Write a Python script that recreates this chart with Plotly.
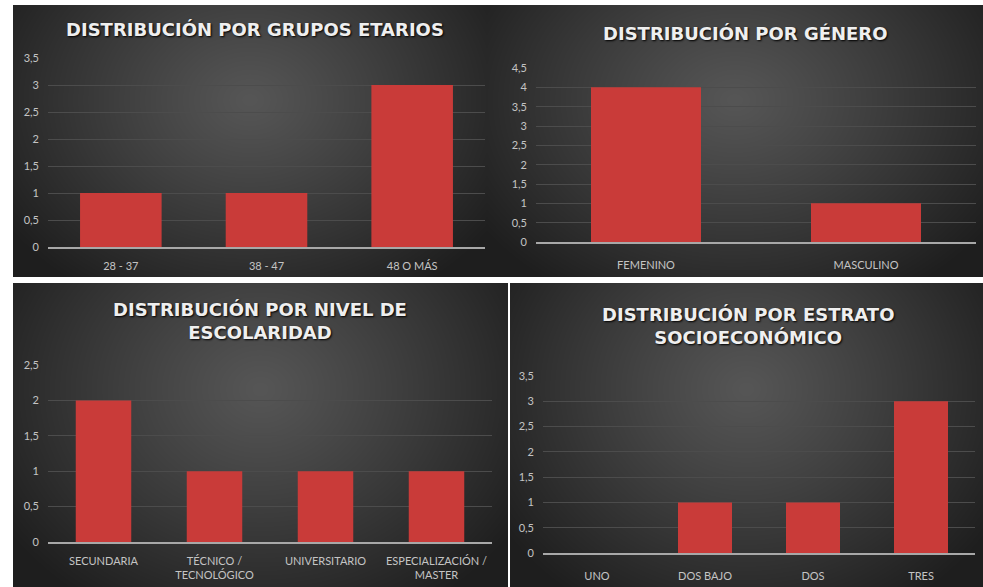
import zlib, struct, base64
import numpy as np
import plotly.graph_objects as go

# ---- data ----
edad_cats = ["28 - 37", "38 - 47", "48 O MÁS"]
edad_vals = [1, 1, 3]

genero_cats = ["FEMENINO", "MASCULINO"]
genero_vals = [4, 1]

escolaridad_cats = ["SECUNDARIA", "TÉCNICO /<br>TECNOLÓGICO", "UNIVERSITARIO", "ESPECIALIZACIÓN /<br>MASTER"]
escolaridad_vals = [2, 1, 1, 1]

estrato_cats = ["UNO", "DOS BAJO", "DOS", "TRES"]
estrato_vals = [0, 1, 1, 3]

titles = [
    "DISTRIBUCIÓN POR GRUPOS ETARIOS",
    "DISTRIBUCIÓN POR GÉNERO",
    "DISTRIBUCIÓN POR NIVEL DE<br>ESCOLARIDAD",
    "DISTRIBUCIÓN POR ESTRATO<br>SOCIOECONÓMICO",
]

W, H = 983, 587


def png_uri(arr):
    h, w = arr.shape
    raw = b"".join(b"\x00" + arr[i].tobytes() for i in range(h))

    def chunk(t, d):
        c = struct.pack(">I", len(d)) + t + d
        return c + struct.pack(">I", zlib.crc32(t + d) & 0xFFFFFFFF)

    png = (b"\x89PNG\r\n\x1a\n"
           + chunk(b"IHDR", struct.pack(">IIBBBBB", w, h, 8, 0, 0, 0, 0))
           + chunk(b"IDAT", zlib.compress(raw, 9))
           + chunk(b"IEND", b""))
    return "data:image/png;base64," + base64.b64encode(png).decode()


def gradient(w, h, cy=0.35, c_in=86, c_out=30):
    xs = (np.arange(w) + 0.5) / w - 0.5
    ys = (np.arange(h) + 0.5) / h - cy
    X, Y = np.meshgrid(xs, ys)
    r = np.sqrt((X / 0.62) ** 2 + (Y / 0.85) ** 2)
    r = np.clip(r, 0, 1)
    v = c_in + (c_out - c_in) * r ** 1.1
    return v.astype(np.uint8)


# panel rects in pixels: x0, y0, x1, y1
panels = [(13, 5, 487, 277), (487, 5, 983, 277), (13, 283, 508, 587), (510, 283, 983, 587)]
# plot areas in pixels: x0, x1, ytop, yzero
plots = [(48, 485, 58, 247), (536, 976, 68, 242), (48, 492, 365, 542), (543, 975, 376, 553)]
ymaxes = [3.5, 4.5, 2.5, 3.5]
title_pos = [(255, 29), (745, 33), (260, 321), (748, 326)]
bar_widths = [0.56, 0.5, 0.5, 0.5]
standoffs = [8, 12, 8, 12]

data = [(edad_cats, edad_vals), (genero_cats, genero_vals),
        (escolaridad_cats, escolaridad_vals), (estrato_cats, estrato_vals)]

fig = go.Figure()
images = []
annotations = []
layout_axes = {}

tick_font = dict(family="Lato, Open Sans, sans-serif", size=11, color="#c4c4c4")

for i, ((cats, vals), (px0, px1, pyt, pyz)) in enumerate(zip(data, plots)):
    n = i + 1
    xa = "x" if n == 1 else f"x{n}"
    ya = "y" if n == 1 else f"y{n}"
    fig.add_trace(go.Bar(
        x=cats, y=vals, xaxis=xa, yaxis=ya,
        width=bar_widths[i],
        marker=dict(color="#c93b39", line=dict(width=0)),
        showlegend=False, hoverinfo="x+y",
    ))
    xkey = "xaxis" if n == 1 else f"xaxis{n}"
    ykey = "yaxis" if n == 1 else f"yaxis{n}"
    layout_axes[xkey] = dict(
        domain=[px0 / W, px1 / W], anchor=ya, automargin=False,
        showgrid=False, showline=True, linecolor="#a8a8a8", linewidth=1.5,
        ticks="", ticklabelstandoff=standoffs[i], tickfont=tick_font,
        type="category", fixedrange=True,
    )
    layout_axes[ykey] = dict(
        domain=[1 - pyz / H, 1 - pyt / H], anchor=xa, automargin=False,
        range=[0, ymaxes[i]], dtick=0.5, tick0=0,
        showgrid=True, gridcolor="#4c4c4c", gridwidth=1,
        zeroline=False, showline=False, ticks="", ticklabelstandoff=8,
        tickfont=tick_font, fixedrange=True,
    )

for (x0, y0, x1, y1) in panels:
    w, h = x1 - x0, y1 - y0
    images.append(dict(
        source=png_uri(gradient(w, h)), xref="paper", yref="paper",
        x=x0 / W, y=1 - y0 / H, sizex=w / W, sizey=h / H,
        sizing="stretch", xanchor="left", yanchor="top", layer="below",
    ))

for t, (tx, ty) in zip(titles, title_pos):
    annotations.append(dict(
        text="<b>" + t + "</b>", xref="paper", yref="paper",
        x=tx / W, y=1 - ty / H, xanchor="center", yanchor="middle",
        showarrow=False, align="center",
        font=dict(family="DejaVu Sans, sans-serif", size=18, color="#efefef",
                  shadow="1px 1px 2px #000000"),
    ))

fig.update_layout(
    width=W, height=H, margin=dict(l=0, r=0, t=0, b=0, autoexpand=False),
    paper_bgcolor="#ffffff", plot_bgcolor="rgba(0,0,0,0)",
    separators=",.", images=images, annotations=annotations,
    **layout_axes,
)

post = (
    "document.documentElement.style.margin='0';"
    "document.documentElement.style.overflow='hidden';"
    "document.body.style.margin='0';"
    "document.body.style.overflow='hidden';"
    "var d=document.getElementById('{plot_id}');"
    "d.style.position='fixed';d.style.top='0px';d.style.left='0px';"
)

fig.write_html("out.html", config={"displayModeBar": False}, post_script=post)
